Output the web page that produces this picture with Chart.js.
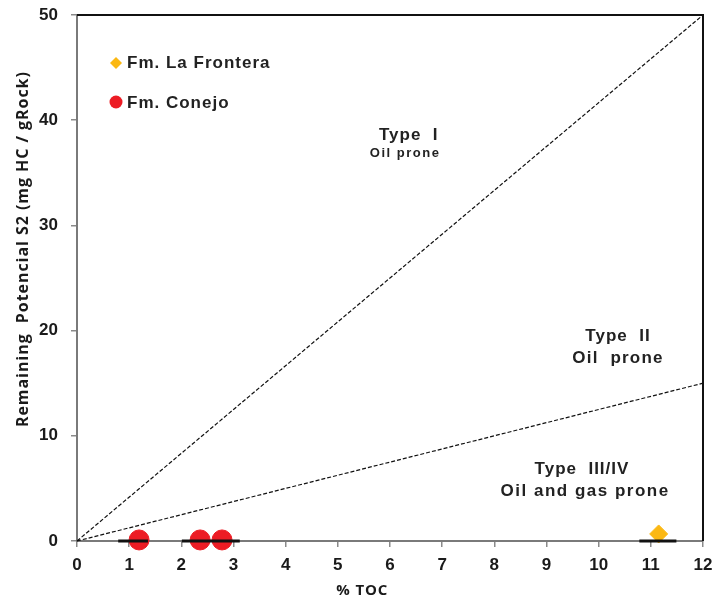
<!DOCTYPE html>
<html>
<head>
<meta charset="utf-8">
<script src="https://cdn.jsdelivr.net/npm/chart.js@4.4.1/dist/chart.umd.min.js"></script>
<style>
  html, body { margin: 0; padding: 0; background: #fff; }
  #wrap { width: 715px; height: 603px; }
</style>
</head>
<body>
<div id="wrap"><canvas id="c" width="715" height="603"></canvas></div>
<script>
// Axis ranges and ticks
const xTicks = [0, 1, 2, 3, 4, 5, 6, 7, 8, 9, 10, 11, 12];
const yTicks = [0, 10, 20, 30, 40, 50];

// Samples: % TOC and S2
const conejoTOC = [1.19, 2.36, 2.78];
const conejoS2 = [0.1, 0.1, 0.1];
const fronteraTOC = [11.15];
const fronteraS2 = [0.67];

// Horizontal spread bars behind the samples (start, end TOC)
const conejoSpread = [[0.79, 1.36], [2.01, 3.12]];
const fronteraSpread = [[10.78, 11.49]];

// Kerogen-type boundary lines (S2 = slope * TOC)
const boundaryTypeI = [[0, 0], [12, 50]];
const boundaryTypeII = [[0, 0], [12, 15]];

// Region labels: title, subtitle, title TOC/S2, subtitle TOC/S2, font sizes, subtitle spacing
const regionLabels = [
  ['Type  I', 'Oil prone', 6.36, 38.55, 6.29, 36.8, 17, 13, 1.5],
  ['Type  II', 'Oil  prone', 10.37, 19.5, 10.37, 17.4, 17, 17, 1.2],
  ['Type  III/IV', 'Oil and gas prone', 9.68, 6.8, 9.74, 4.7, 17, 17, 1.5]
];

const RED = '#ec1c24';
const YELLOW = '#fbb813';
const SANS = '"Liberation Sans", Arial, sans-serif';
const TITLE_FONT = '"Open Sans", Lato, sans-serif';

const toPts = arr => arr.map(p => ({ x: p[0], y: p[1] }));
const spreadPts = segs => {
  const out = [];
  segs.forEach((s, i) => {
    if (i > 0) out.push({ x: (segs[i - 1][1] + s[0]) / 2, y: null });
    out.push({ x: s[0], y: 0 }, { x: s[1], y: 0 });
  });
  return out;
};

// draw text stretched to a given overall width via letter spacing
function spacedText(ctx, text, cx, cy, width) {
  ctx.letterSpacing = '0px';
  const w = ctx.measureText(text).width;
  const ls = Math.max(0, (width - w) / (text.length - 1));
  ctx.letterSpacing = ls + 'px';
  ctx.textAlign = 'left';
  ctx.fillText(text, cx - width / 2, cy);
  ctx.letterSpacing = '0px';
}

const overlay = {
  id: 'overlay',
  afterDatasetsDraw(chart) {
    const { ctx, chartArea: a, scales: { x, y } } = chart;
    ctx.save();
    // top and right frame
    ctx.strokeStyle = '#111';
    ctx.lineWidth = 2;
    ctx.beginPath();
    ctx.moveTo(a.left, a.top);
    ctx.lineTo(a.right, a.top);
    ctx.lineTo(a.right, a.bottom);
    ctx.stroke();

    ctx.fillStyle = '#222';
    ctx.textBaseline = 'middle';
    ctx.textAlign = 'center';
    regionLabels.forEach(r => {
      ctx.font = 'bold ' + r[6] + 'px ' + SANS;
      ctx.letterSpacing = '1px';
      ctx.fillText(r[0], x.getPixelForValue(r[2]), y.getPixelForValue(r[3]));
      ctx.font = 'bold ' + r[7] + 'px ' + SANS;
      ctx.letterSpacing = r[8] + 'px';
      ctx.fillText(r[1], x.getPixelForValue(r[4]), y.getPixelForValue(r[5]));
    });
    ctx.letterSpacing = '0px';

    // legend
    const lx = a.left + 39;
    ctx.fillStyle = YELLOW;
    ctx.beginPath();
    ctx.moveTo(lx, 57); ctx.lineTo(lx + 6, 63); ctx.lineTo(lx, 69); ctx.lineTo(lx - 6, 63);
    ctx.closePath(); ctx.fill();
    ctx.fillStyle = RED;
    ctx.beginPath();
    ctx.arc(lx, 102, 6.5, 0, Math.PI * 2);
    ctx.fill();
    ctx.fillStyle = '#222';
    ctx.textAlign = 'left';
    ctx.font = 'bold 17px ' + SANS;
    ctx.letterSpacing = '1px';
    ctx.fillText('Fm. La Frontera', lx + 11, 63);
    ctx.fillText('Fm. Conejo', lx + 11, 103);
    ctx.letterSpacing = '0px';

    // axis titles
    ctx.fillStyle = '#1a1a1a';
    ctx.font = 'bold 15px ' + TITLE_FONT;
    spacedText(ctx, '% TOC', x.getPixelForValue(5.46), 591, 51);

    ctx.save();
    ctx.translate(23, y.getPixelForValue(27.7));
    ctx.rotate(-Math.PI / 2);
    ctx.font = 'bold 16px ' + TITLE_FONT;
    spacedText(ctx, 'Remaining  Potencial S2 (mg HC / gRock)', 0, 0, 355);
    ctx.restore();
    ctx.restore();
  }
};

new Chart(document.getElementById('c'), {
  type: 'scatter',
  data: {
    datasets: [
      { type: 'line', data: toPts(boundaryTypeI), borderColor: '#111', borderWidth: 1.2, borderDash: [4, 2], pointRadius: 0, fill: false },
      { type: 'line', data: toPts(boundaryTypeII), borderColor: '#111', borderWidth: 1.2, borderDash: [4, 2], pointRadius: 0, fill: false },
      { type: 'line', data: spreadPts(conejoSpread), borderColor: '#111', borderWidth: 3, pointRadius: 0, spanGaps: false, fill: false },
      { type: 'line', data: spreadPts(fronteraSpread), borderColor: '#111', borderWidth: 3, pointRadius: 0, spanGaps: false, fill: false },
      { label: 'Fm. Conejo', data: conejoTOC.map((v, i) => ({ x: v, y: conejoS2[i] })), backgroundColor: RED, borderColor: RED, pointRadius: 10, pointStyle: 'circle' },
      { label: 'Fm. La Frontera', data: fronteraTOC.map((v, i) => ({ x: v, y: fronteraS2[i] })), backgroundColor: YELLOW, borderColor: YELLOW, pointRadius: 9, pointStyle: 'rectRot' }
    ]
  },
  options: {
    responsive: false,
    animation: false,
    clip: false,
    layout: { padding: { left: 0, top: 15, right: 12, bottom: 0 } },
    plugins: { legend: { display: false }, tooltip: { enabled: false } },
    scales: {
      x: {
        type: 'linear', min: 0, max: 12,
        afterBuildTicks: s => { s.ticks = xTicks.map(v => ({ value: v })); },
        afterFit: s => { s.height = 62; s.paddingLeft = 0; s.paddingRight = 0; },
        border: { color: '#7a7a7a', width: 2 },
        grid: { drawOnChartArea: false, color: '#8a8a8a', tickLength: 6, lineWidth: 1.5 },
        ticks: { color: '#1a1a1a', padding: 8, maxRotation: 0, font: { family: SANS, size: 17, weight: 'bold' } }
      },
      y: {
        type: 'linear', min: 0, max: 50,
        afterBuildTicks: s => { s.ticks = yTicks.map(v => ({ value: v })); },
        afterFit: s => { s.width = 77; s.paddingTop = 0; s.paddingBottom = 0; },
        border: { color: '#7a7a7a', width: 2 },
        grid: { drawOnChartArea: false, color: '#8a8a8a', tickLength: 6, lineWidth: 1.5 },
        ticks: { color: '#1a1a1a', padding: 13, font: { family: SANS, size: 17, weight: 'bold' } }
      }
    }
  },
  plugins: [overlay]
});
</script>
</body>
</html>
